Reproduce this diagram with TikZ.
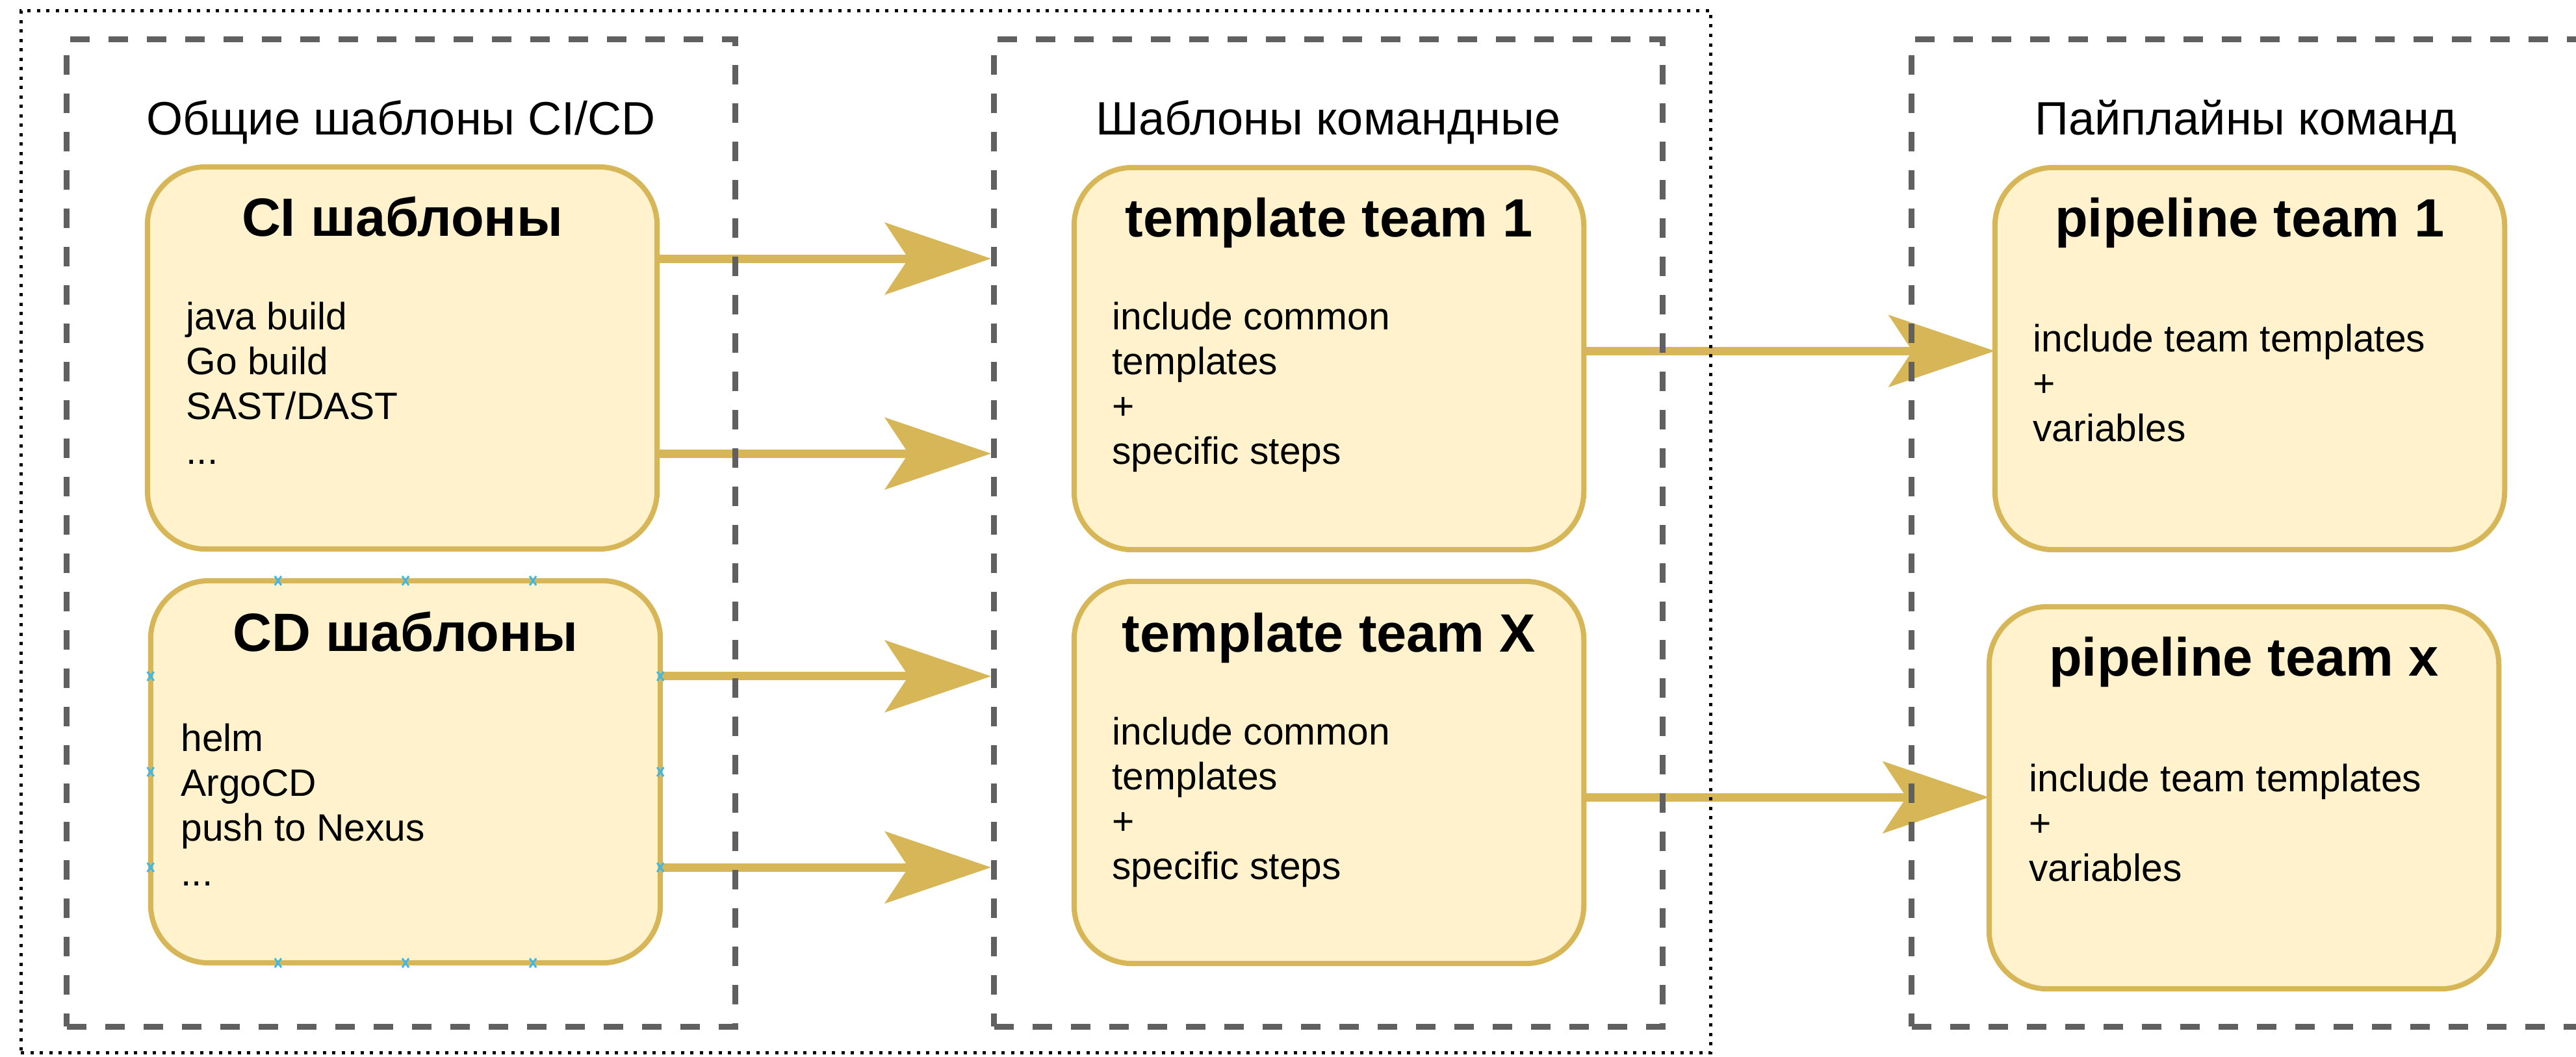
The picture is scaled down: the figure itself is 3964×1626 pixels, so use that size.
\documentclass[tikz,border=0pt]{standalone}
\usepackage{fontspec}
\setmainfont{Liberation Sans}
\usetikzlibrary{arrows.meta,calc}
\definecolor{boxfill}{HTML}{FFF2CC}
\definecolor{boxline}{HTML}{D6B656}
\definecolor{grpline}{HTML}{606060}
\definecolor{markblue}{HTML}{3DB8E8}
\pgfdeclarelayer{background}
\pgfsetlayers{background,main}

\begin{document}
\begin{tikzpicture}[x=0.01cm,y=-0.01cm,
  card/.style={draw=boxline, fill=boxfill, line width=0.08cm, rounded corners=0.9cm,
    minimum width=7.84cm, minimum height=5.88cm, inner sep=0, outer sep=0},
  group/.style={draw=grpline, line width=0.09cm, dash pattern=on 0.3cm off 0.29cm,
    minimum width=10.28cm, minimum height=15.19cm, inner sep=0},
  frame/.style={draw=black, line width=0.05cm, dash pattern=on 0.05cm off 0.095cm, inner sep=0},
  grouptitle/.style={anchor=base, inner sep=0, font=\fontsize{20.5}{24}\selectfont},
  heading/.style={anchor=base, inner sep=0, font=\fontsize{23.6}{28}\selectfont\bfseries},
  body/.style={anchor=base west, inner sep=0, font=\fontsize{16.7}{19.63}\selectfont},
  flow/.style={draw=boxline, line width=0.13cm,
    -{Stealth[length=1.63cm, width=1.1cm, inset=0.36cm]}},
  xmark/.style={draw=markblue, line width=0.03cm}
]
\useasboundingbox (0,0) rectangle (3964,1626);
\clip (0,0) rectangle (3964,1626);

% outer dotted frame and the three dashed groups
\node[frame, minimum width=25.99cm, minimum height=16.03cm] (outer) at (1332.5,818.5) {};
\node[group] (gCommon) at (617,820.5) {};
\node[group] (gTeam) at (2044,820.5) {};
\node[group] (gPipe) at (3456,820.5) {};

\node[grouptitle] (tCommon) at ($(gCommon.north)+(0,151)$) {Общие шаблоны CI/CD};
\node[grouptitle] (tTeam) at ($(gTeam.north)+(0,151)$) {Шаблоны командные};
\node[grouptitle] (tPipe) at ($(gPipe.north)+(0,151)$) {Пайплайны команд};

% template cards
\node[card] (ci) at (619,551) {};
\node[card] (cd) at (624,1188) {};
\node[card] (t1) at (2045,552) {};
\node[card] (tx) at (2045,1189) {};
\node[card] (p1) at (3462,552) {};
\node[card] (px) at (3453,1228) {};

\node[heading] (hCi) at ($(ci.north)+(0,107)$) {CI шаблоны};
\node[heading] (hCd) at ($(cd.north)+(0,109)$) {CD шаблоны};
\node[heading] (hT1) at ($(t1.north)+(0,107)$) {template team 1};
\node[heading] (hTx) at ($(tx.north)+(0,109)$) {template team X};
\node[heading] (hP1) at ($(p1.north)+(0,107)$) {pipeline team 1};
\node[heading] (hPx) at ($(px.north)+(0,107)$) {pipeline team x};

\node[body] (bCi) at ($(ci.north west)+(59,251)$)
  {\begin{tabular}[t]{@{}l@{}}java build\\Go build\\SAST/DAST\\...\end{tabular}};
\node[body] (bCd) at ($(cd.north west)+(46,263)$)
  {\begin{tabular}[t]{@{}l@{}}helm\\ArgoCD\\push to Nexus\\...\end{tabular}};
\node[body] (bT1) at ($(t1.north west)+(58,250)$)
  {\begin{tabular}[t]{@{}l@{}}include common\\templates\\+\\specific steps\end{tabular}};
\node[body] (bTx) at ($(tx.north west)+(58,252)$)
  {\begin{tabular}[t]{@{}l@{}}include common\\templates\\+\\specific steps\end{tabular}};
\node[body] (bP1) at ($(p1.north west)+(58,284)$)
  {\begin{tabular}[t]{@{}l@{}}include team templates\\+\\variables\end{tabular}};
\node[body] (bPx) at ($(px.north west)+(61,285)$)
  {\begin{tabular}[t]{@{}l@{}}include team templates\\+\\variables\end{tabular}};

% connection markers on the selected CD card
\foreach \f in {0.25,0.5,0.75}{
  \coordinate (mt) at ($(cd.north west)!\f!(cd.north east)$);
  \coordinate (mb) at ($(cd.south west)!\f!(cd.south east)$);
  \coordinate (ml) at ($(cd.north west)!\f!(cd.south west)$);
  \coordinate (mr) at ($(cd.north east)!\f!(cd.south east)$);
  \foreach \m in {mt,mb,ml,mr}{
    \draw[xmark] ($(\m)+(-5,-7)$) -- ($(\m)+(5,7)$) ($(\m)+(-5,7)$) -- ($(\m)+(5,-7)$);
  }
}

% flows, kept behind the dashed outlines
\coordinate (ciA) at ($(ci.north east)!0.24!(ci.south east)$);
\coordinate (ciB) at ($(ci.north east)!0.75!(ci.south east)$);
\coordinate (cdA) at ($(cd.north east)!0.25!(cd.south east)$);
\coordinate (cdB) at ($(cd.north east)!0.75!(cd.south east)$);
\coordinate (t1A) at ($(t1.north east)!0.48!(t1.south east)$);
\coordinate (txA) at ($(tx.north east)!0.565!(tx.south east)$);
\begin{pgfonlayer}{background}
  \draw[flow] (ciA) -- (ciA -| gTeam.west);
  \draw[flow] (ciB) -- (ciB -| gTeam.west);
  \draw[flow] (cdA) -- (cdA -| gTeam.west);
  \draw[flow] (cdB) -- (cdB -| gTeam.west);
  \draw[flow] (t1A) -- (t1A -| p1.west);
  \draw[flow] (txA) -- (txA -| px.west);
\end{pgfonlayer}
\end{tikzpicture}
\end{document}
